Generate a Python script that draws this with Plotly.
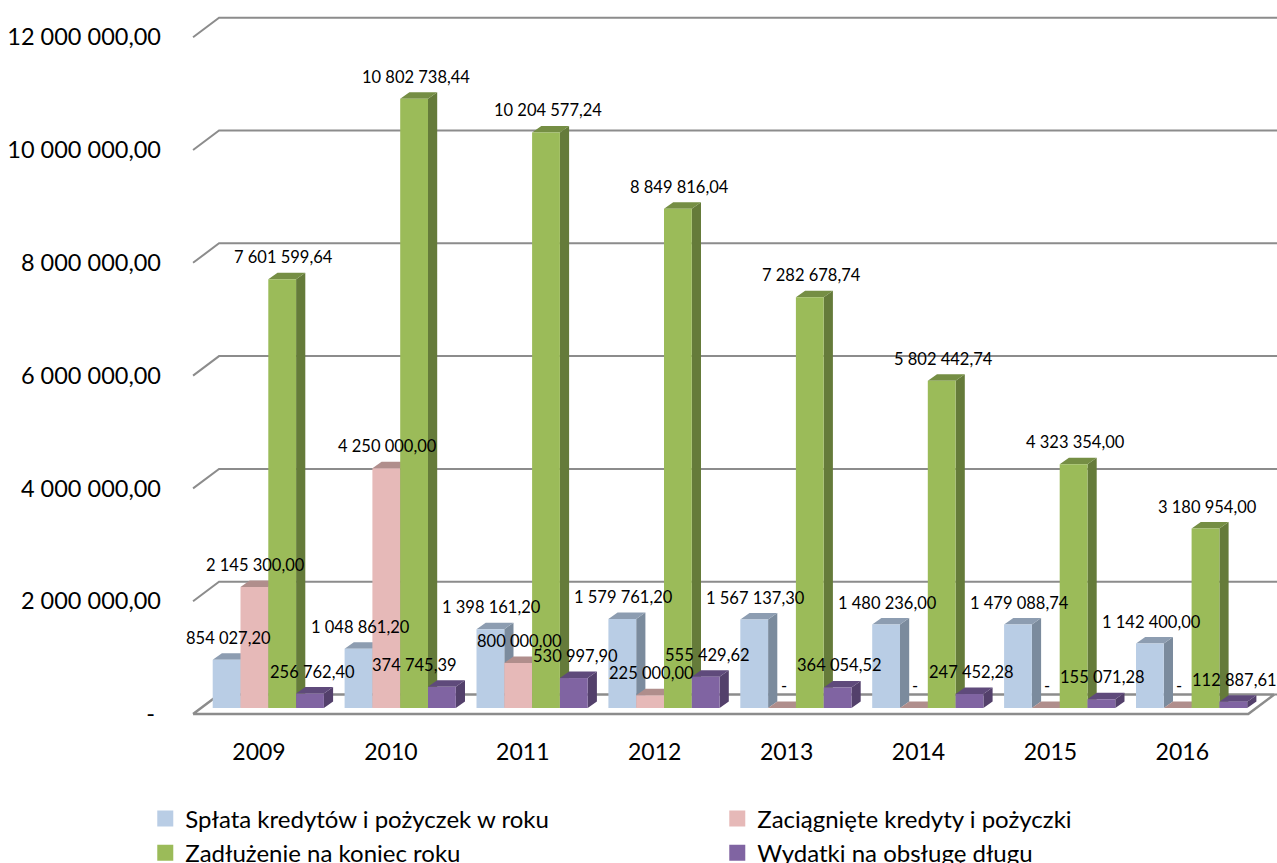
import plotly.graph_objects as go

years = ["2009", "2010", "2011", "2012", "2013", "2014", "2015", "2016"]
splata = [854027.20, 1048861.20, 1398161.20, 1579761.20, 1567137.30, 1480236.00, 1479088.74, 1142400.00]
zaciagniete = [2145300.00, 4250000.00, 800000.00, 225000.00, 0, 0, 0, 0]
zadluzenie = [7601599.64, 10802738.44, 10204577.24, 8849816.04, 7282678.74, 5802442.74, 4323354.00, 3180954.00]
wydatki = [256762.40, 374745.39, 530997.90, 555429.62, 364054.52, 247452.28, 155071.28, 112887.61]
series_names = ["Spłata kredytów i pożyczek w roku", "Zaciągnięte kredyty i pożyczki",
                "Zadłużenie na koniec roku", "Wydatki na obsługę długu"]
series_values = [splata, zaciagniete, zadluzenie, wydatki]
y_ticks = [0, 2000000, 4000000, 6000000, 8000000, 10000000, 12000000]
y_ticktext = ["-\u00a0", "2 000 000,00", "4 000 000,00", "6 000 000,00", "8 000 000,00", "10 000 000,00", "12 000 000,00"]

front_colors = ["#B9CDE5", "#E6B9B8", "#9BBB59", "#8064A2"]
top_colors = ["#8D9DB1", "#B08E8C", "#758E44", "#5F4A7B"]
side_colors = ["#7B8B9D", "#9A7C7B", "#657B3A", "#53406B"]

# scale of the projection
GROUP_PX = 131.9
VAL_PER_PX = 1e6 / 56.4
W, H = 1277, 863
ML, MB = 162, 141
X0_PX = 259
FLOOR_PX = 714
x_range = [(ML - X0_PX) / GROUP_PX, (W - X0_PX) / GROUP_PX]
y_range = [(FLOOR_PX - (H - MB)) * VAL_PER_PX, FLOOR_PX * VAL_PER_PX]

wall_dx, wall_dy = 26 / GROUP_PX, 19.5 * VAL_PER_PX
bar_w = 27.8 / GROUP_PX
bar_first = (226.6 - X0_PX) / GROUP_PX
bar_base = 6 * VAL_PER_PX
bar_dx, bar_dy = 9.2 / GROUP_PX, 6.5 * VAL_PER_PX

fig = go.Figure()

# back wall gridlines with the slanted side-wall stub
GRID = "#8C8C8C"
for v in y_ticks[1:]:
    fig.add_trace(go.Scatter(x=[-0.5, -0.5 + wall_dx, x_range[1]], y=[v, v + wall_dy, v + wall_dy],
                             mode="lines", line=dict(color=GRID, width=2), showlegend=False, hoverinfo="skip"))
# floor
fig.add_trace(go.Scatter(
    x=[-0.5, -0.5 + wall_dx, 7.5 + wall_dx, 7.5, -0.5],
    y=[0, wall_dy, wall_dy, 0, 0],
    mode="lines", fill="toself", fillcolor="#FFFFFF", line=dict(color=GRID, width=2.5),
    showlegend=False, hoverinfo="skip"))
fig.add_trace(go.Scatter(x=[7.5 + wall_dx, x_range[1]], y=[wall_dy, wall_dy], mode="lines",
                         line=dict(color=GRID, width=2), showlegend=False, hoverinfo="skip"))

# side and top faces (lower layer)
for k, vals in enumerate(series_values):
    sx, sy, tx, ty = [], [], [], []
    for i, v in enumerate(vals):
        x0 = i + bar_first + (k - 0.5) * bar_w
        x1 = x0 + bar_w
        top = bar_base + v
        sx += [x1, x1, x1 + bar_dx, x1 + bar_dx, x1, None]
        sy += [bar_base, top, top + bar_dy, bar_base + bar_dy, bar_base, None]
        tx += [x0, x1, x1 + bar_dx, x0 + bar_dx, x0, None]
        ty += [top, top, top + bar_dy, top + bar_dy, top, None]
    fig.add_trace(go.Scatter(x=sx, y=sy, mode="lines", fill="toself", fillcolor=side_colors[k],
                             line=dict(width=0, color=side_colors[k]), showlegend=False, hoverinfo="skip"))
    fig.add_trace(go.Scatter(x=tx, y=ty, mode="lines", fill="toself", fillcolor=top_colors[k],
                             line=dict(width=0, color=top_colors[k]), showlegend=False, hoverinfo="skip"))

# front faces (upper overlay layer)
for k, vals in enumerate(series_values):
    fig.add_trace(go.Bar(
        x=[i + bar_first + k * bar_w for i in range(len(years))],
        y=vals, base=bar_base, width=bar_w, name=series_names[k], showlegend=False,
        marker=dict(color=front_colors[k], line=dict(width=0)),
        xaxis="x2", yaxis="y2"))

# legend keys
for k, name in enumerate(series_names):
    fig.add_trace(go.Scatter(x=[None], y=[None], mode="markers", name=name,
                             marker=dict(symbol="square", size=16, color=front_colors[k]),
                             xaxis="x2", yaxis="y2"))

def fmt(v):
    if v == 0:
        return "-"
    whole, frac = f"{v:,.2f}".split(".")
    return whole.replace(",", " ") + "," + frac

label_nudge = {(3, 0): 2, (3, 1): -27}
annotations = []
for k, vals in enumerate(series_values):
    for i, v in enumerate(vals):
        annotations.append(dict(
            x=i + bar_first + k * bar_w, y=bar_base + v, xref="x2", yref="y2",
            text=fmt(v), showarrow=False, xanchor="center", yanchor="middle",
            xshift=label_nudge.get((k, i), 1.5), yshift=22,
            font=dict(family="Lato", size=16.5, color="#000000")))

fig.update_layout(
    width=W, height=H, margin=dict(l=ML, r=0, t=0, b=MB, autoexpand=False),
    paper_bgcolor="#FFFFFF", plot_bgcolor="#FFFFFF", barmode="overlay",
    annotations=annotations,
    font=dict(family="Lato", color="#000000"),
    xaxis=dict(range=x_range, tickmode="array", tickvals=list(range(8)), ticktext=years,
               showgrid=False, zeroline=False, showline=False, ticks="", automargin=False,
               ticklabelstandoff=14, tickfont=dict(family="Lato", size=23)),
    yaxis=dict(range=y_range, tickmode="array", tickvals=y_ticks, ticktext=y_ticktext,
               showgrid=False, zeroline=False, showline=False, ticks="", automargin=False,
               tickfont=dict(family="Lato", size=23.5)),
    xaxis2=dict(range=x_range, overlaying="x", visible=False),
    yaxis2=dict(range=y_range, overlaying="y", visible=False),
    legend=dict(orientation="h", x=-0.015, y=-0.103, xanchor="left", yanchor="top",
                entrywidth=527, entrywidthmode="pixels", traceorder="normal",
                font=dict(family="Lato", size=24, color="#000000"), bgcolor="rgba(0,0,0,0)"),
)

fig.write_html("out.html", config={"displayModeBar": False},
               post_script="document.body.style.margin='0';document.documentElement.style.overflow='hidden';")
